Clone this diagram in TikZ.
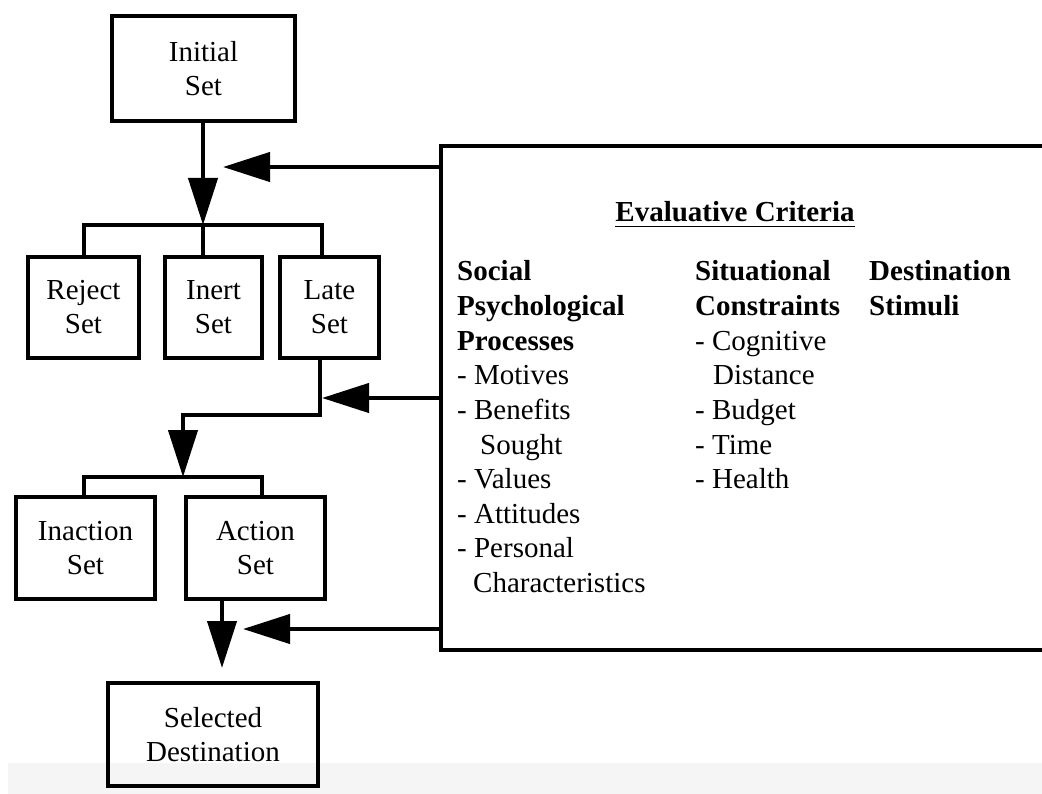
\documentclass[tikz,border=0pt]{standalone}
\usepackage{fontspec}
\setmainfont{Liberation Serif}
\usetikzlibrary{arrows.meta,calc}
\begin{document}
\begin{tikzpicture}[x=1pt,y=-1pt,
  box/.style={draw,line width=4.2pt,rectangle,inner sep=0pt,align=center,font=\fontsize{29}{34}\selectfont},
  conn/.style={line width=4.2pt},
  arr/.style={line width=4.2pt,-{Triangle[length=47pt,width=29pt]}},
  lbl/.style={anchor=base west,inner sep=0pt,font=\fontsize{29}{34}\selectfont},
  hd/.style={anchor=base west,inner sep=0pt,font=\fontsize{29}{34}\selectfont\bfseries}]
\useasboundingbox (0,0) rectangle (1042,794);
\fill[black!4] (8,763) rectangle (1042,794);

% boxes
\node[box,minimum width=183pt,minimum height=105pt] (init) at (203.5,68.5) {Initial\\Set};
\node[box,minimum width=111pt,minimum height=101pt] (reject) at (83.5,307.5) {Reject\\Set};
\node[box,minimum width=97pt,minimum height=101pt] (inert) at (213.5,307.5) {Inert\\Set};
\node[box,minimum width=99pt,minimum height=101pt] (late) at (329.5,307.5) {Late\\Set};
\node[box,minimum width=139pt,minimum height=102pt] (inaction) at (85.5,548) {Inaction\\Set};
\node[box,minimum width=139pt,minimum height=102pt] (action) at (255.5,548) {Action\\Set};
\node[box,minimum width=210pt,minimum height=103pt] (selected) at (213,734.5) {Selected\\Destination};

% evaluative criteria box (open on the right)
\node[inner sep=0pt,minimum width=601pt,minimum height=504pt] (crit) at (741.5,398) {};
\draw[conn] (crit.north east) -- (crit.north west) -- (crit.south west) -- (crit.south east);

\node[anchor=base,inner sep=0pt,font=\fontsize{29}{34}\selectfont\bfseries] (title) at (735,222) {Evaluative Criteria};
\draw[line width=1.8pt] ([yshift=-4.5pt]title.base west) -- ([yshift=-4.5pt]title.base east);

% column 1
\node[hd] (c1a) at (457,281) {Social};
\node[hd] (c1b) at (457,315.6) {Psychological};
\node[hd] (c1c) at (457,350.2) {Processes};
\node[lbl] (c1d) at (457,384.8) {- Motives};
\node[lbl] (c1e) at (457,419.4) {- Benefits};
\node[lbl] (c1f) at (480,454) {Sought};
\node[lbl] (c1g) at (457,488.6) {- Values};
\node[lbl] (c1h) at (457,523.2) {- Attitudes};
\node[lbl] (c1i) at (457,557.8) {- Personal};
\node[lbl] (c1j) at (473,592.4) {Characteristics};
% column 2
\node[hd] (c2a) at (695,281) {Situational};
\node[hd] (c2b) at (695,315.6) {Constraints};
\node[lbl] (c2c) at (695,350.2) {- Cognitive};
\node[lbl] (c2d) at (713,384.8) {Distance};
\node[lbl] (c2e) at (695,419.4) {- Budget};
\node[lbl] (c2f) at (695,454) {- Time};
\node[lbl] (c2g) at (695,488.6) {- Health};
% column 3
\node[hd] (c3a) at (869,281) {Destination};
\node[hd] (c3b) at (869,315.6) {Stimuli};

% junction coordinates
\coordinate (j1) at (203,225);
\coordinate (b1l) at (84,225);
\coordinate (b1r) at (322,225);
\coordinate (k1) at (320,415);
\coordinate (j2) at (183,477);
\coordinate (b2l) at (84,477);
\coordinate (b2r) at (262,477);
\coordinate (j3) at (222,668);
\coordinate (t1) at (223,167);
\coordinate (t2) at (322,398);
\coordinate (t3) at (243,629);

% main flow
\draw[arr] (init.south -| j1) -- (j1);
\draw[conn] (reject.north -| b1l) -- (b1l) -- (b1r) -- (late.north -| b1r);
\draw[conn] (j1) -- (inert.north -| j1);
\draw[arr] (late.south -| k1) -- (k1) -| (j2);
\draw[conn] (inaction.north -| b2l) -- (b2l) -- (b2r) -- (action.north -| b2r);
\draw[arr] (action.south -| j3) -- (j3);

% feedback arrows
\draw[arr] (crit.west |- t1) -- (t1);
\draw[arr] (crit.west |- t2) -- (t2);
\draw[arr] (crit.west |- t3) -- (t3);
\end{tikzpicture}
\end{document}
